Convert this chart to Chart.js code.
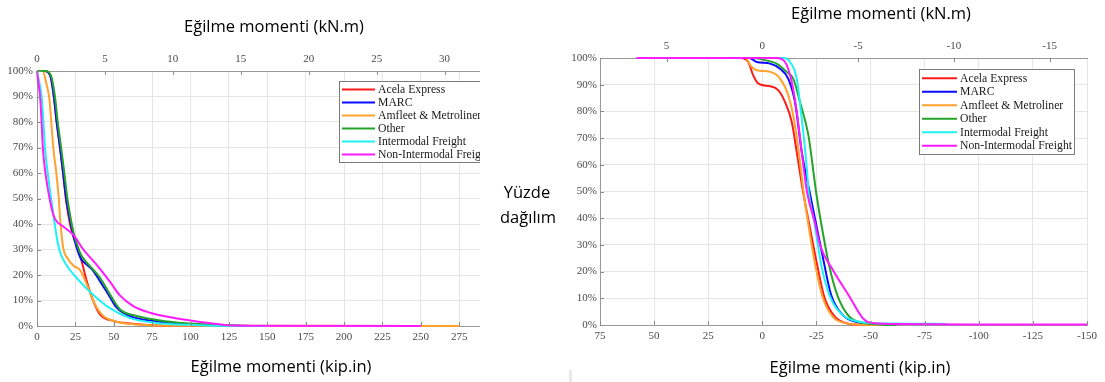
<!DOCTYPE html>
<html>
<head>
<meta charset="utf-8">
<script src="https://cdn.jsdelivr.net/npm/chart.js@4.4.0/dist/chart.umd.min.js"></script>
<style>
    body { margin: 0; background: #fff; width: 1105px; height: 382px; overflow: hidden; position: relative; font-family: 'Open Sans', sans-serif; }
    .panel { position: absolute; top: 0; height: 382px; overflow: hidden; }
    #left-panel { left: 0; width: 480px; }
    #right-panel { left: 540px; width: 565px; }
    .title { position: absolute; font-size: 16.5px; color: #000; white-space: nowrap; transform: translate(-50%, -50%); }
    .mark { position: absolute; left: 569px; top: 370px; width: 3px; height: 12px; background: #e8e8e8; }
</style>
</head>
<body>
<div class="panel" id="left-panel"><canvas id="left-chart" width="540" height="382"></canvas></div>
<div class="panel" id="right-panel"><canvas id="right-chart" width="565" height="382"></canvas></div>

<div class="title" style="left:274px; top:25px;">Eğilme momenti (kN.m)</div>
<div class="title" style="left:281px; top:365px;">Eğilme momenti (kip.in)</div>
<div class="title" style="left:881px; top:12px;">Eğilme momenti (kN.m)</div>
<div class="title" style="left:860px; top:366px;">Eğilme momenti (kip.in)</div>
<div class="title" style="left:527px; top:191px;">Yüzde</div>
<div class="title" style="left:528px; top:216px;">dağılım</div>
<div class="mark"></div>

<script>
// Units
const KIP_IN_PER_KN_M = 8.8507;

// Series
const seriesNames = ['Acela Express', 'MARC', 'Amfleet & Metroliner', 'Other', 'Intermodal Freight', 'Non-Intermodal Freight'];
const seriesColors = ['#ff1a1a', '#0a0aff', '#ffa22e', '#26a32b', '#1ff2f2', '#ff1aff'];

// Left chart data: [moment kip.in, percent]
const leftAcela = [[0,100],[5,100],[8.5,98.4],[11,90],[12.8,80],[15,70],[17,60],[18.8,50],[21.5,40],[24,34.5],[26.5,30.5],[29.1,25.4],[32.4,17.6],[36.7,9.8],[41,4.6],[49.7,2],[60.6,1],[75,0.3],[100,0.05],[150,0]];
const leftMarc = [[0,100],[5,100],[8.5,98.4],[11,90],[12.8,80],[15,70],[17,60],[19,50],[22.6,38.4],[25.9,30.6],[28.5,26.5],[31.3,24.6],[35.6,22.4],[41,17.6],[46.5,12.4],[51.9,7.2],[60.6,3.9],[75.8,2],[93.2,1],[110,0.5],[125,0.15],[150,0]];
const leftAmfleet = [[0,100],[3.7,100],[6.3,94.5],[8,89.4],[9.3,80],[10.6,70],[12.6,60],[14.2,50],[15.2,41],[17.1,30.6],[20,26.5],[24,23.5],[28,22],[33.4,14.9],[37.8,8.4],[43.2,3.9],[51.9,1.7],[65,0.6],[80,0.2],[100,0.05],[275,0]];
const leftOther = [[0,100],[5.5,100],[9,98.4],[11.7,90],[13.5,80],[15.7,70],[17.8,60],[19.8,50],[23.7,37],[28,28.8],[30.5,26.2],[34.5,23.5],[41,19],[47.5,12.4],[54,6.6],[65,3.9],[82.3,2],[99.7,1],[115,0.4],[130,0.1],[150,0]];
const leftIntermodal = [[0,100],[1,97],[3,90],[4.2,80],[5.2,70],[7,60],[9.2,50],[10.6,44],[12.8,35],[15,29],[19.3,23.8],[28,17.4],[36.7,12.2],[47.5,7],[60.6,3.1],[78,1.2],[97.5,0.5],[115,0.1],[150,0]];
const leftNonIntermodal = [[0,100],[1,95],[2,90],[3,80],[3.8,70],[5.5,60],[8.2,50],[10,45],[11.7,42],[17.1,39],[23.7,35.7],[30.2,30],[38.9,24],[47.5,17.4],[54,12],[62.7,7.8],[73.6,5.2],[88.8,3.2],[104,1.8],[117,0.8],[125,0.3],[140,0.1],[250,0]];

// Right chart data: [moment kip.in, percent]
const rightAcela = [[58,100],[10,100],[6.5,98.5],[4.2,93.5],[1.8,90.4],[-3.6,89.4],[-7.4,87.9],[-10.5,83.5],[-13.6,76],[-15.9,64.8],[-18.8,50],[-21.6,38],[-25.5,21.8],[-28.6,10.6],[-33.5,3.1],[-39.8,0.5],[-47,0.1],[-60,0]];
const rightMarc = [[58,100],[6,100],[2.6,98.5],[-3.6,97.9],[-8.2,96],[-12,92.2],[-15.1,83.5],[-18.2,64.8],[-21.8,50],[-24.8,38],[-27.9,25.6],[-31.8,11.2],[-37.2,3.7],[-44.8,0.9],[-52,0.2],[-60,0]];
const rightAmfleet = [[58,100],[8,100],[4.9,96.6],[2.6,95.4],[-3.6,94.8],[-8.2,92.3],[-12,86],[-15.1,74.8],[-17.4,61],[-19,50],[-21.2,38],[-24.6,21.8],[-27.8,10.6],[-32.5,3.1],[-39,0.6],[-46.5,0.1],[-60,0]];
const rightOther = [[58,100],[4,100],[0,99.4],[-6.6,97.9],[-11.3,94.8],[-14.3,92.2],[-17.4,83.5],[-21.3,71],[-24.8,50],[-27.2,38],[-31,21.8],[-34.9,10.6],[-40.2,3.1],[-48,0.6],[-55,0.1],[-62,0]];
const rightIntermodal = [[58,100],[-9.7,100],[-12.8,98.5],[-15.9,92.2],[-18.2,77.3],[-20.3,61],[-21.4,50],[-24.1,38],[-27.2,22.5],[-31,11.2],[-37.2,3.7],[-45,1.2],[-52,0.7],[-65,0.5],[-85,0.4]];
const rightNonIntermodal = [[58,100],[-6.6,100],[-10.5,98.5],[-13.6,91],[-15.9,79.8],[-18.2,64.8],[-20.6,50],[-24.4,38],[-26.6,30],[-32.6,20.6],[-40.3,10.6],[-46.5,2.5],[-50,0.8],[-60,0.4],[-100,0.2],[-150,0.15]];

const leftSeries = [leftAcela, leftMarc, leftAmfleet, leftOther, leftIntermodal, leftNonIntermodal];
const rightSeries = [rightAcela, rightMarc, rightAmfleet, rightOther, rightIntermodal, rightNonIntermodal];

// Axis ranges
const leftKipRange = [0, 300];
const rightKipRange = [-150, 75];

const tickFont = { family: "'Liberation Serif', 'Times New Roman', serif", size: 11 };
const tickColor = '#4a4a4a';
const gridColor = '#e6e6e6';
const axisColor = '#9a9a9a';

// Legend drawn inside the plot, boxed like the original
const boxLegend = {
    id: 'boxLegend',
    afterDraw(chart, args, opts) {
        const ctx = chart.ctx;
        const datasets = chart.data.datasets;
        ctx.save();
        ctx.fillStyle = '#fff';
        ctx.fillRect(opts.x, opts.y, opts.w, opts.h);
        ctx.strokeStyle = '#7a7a7a';
        ctx.lineWidth = 1;
        ctx.strokeRect(opts.x + 0.5, opts.y + 0.5, opts.w, opts.h);
        ctx.font = "11.7px 'Liberation Serif', serif";
        ctx.textBaseline = 'middle';
        datasets.forEach((ds, i) => {
            const cy = opts.y + opts.first + i * opts.row;
            ctx.strokeStyle = ds.borderColor;
            ctx.lineWidth = 2;
            ctx.beginPath();
            ctx.moveTo(opts.x + 3, cy);
            ctx.lineTo(opts.x + 3 + opts.line, cy);
            ctx.stroke();
            ctx.fillStyle = '#1a1a1a';
            ctx.fillText(ds.label, opts.x + 6 + opts.line, cy + 0.5);
        });
        ctx.restore();
    }
};

// Short inward tick marks, MATLAB style
const innerTicks = {
    id: 'innerTicks',
    afterDatasetsDraw(chart) {
        const ctx = chart.ctx;
        const area = chart.chartArea;
        ctx.save();
        ctx.strokeStyle = '#8a8a8a';
        ctx.lineWidth = 1;
        ctx.beginPath();
        chart.scales.x.ticks.forEach(t => {
            const px = Math.round(chart.scales.x.getPixelForValue(t.value)) + 0.5;
            ctx.moveTo(px, area.bottom);
            ctx.lineTo(px, area.bottom - 4);
        });
        chart.scales.x2.ticks.forEach(t => {
            const px = Math.round(chart.scales.x2.getPixelForValue(t.value)) + 0.5;
            ctx.moveTo(px, area.top);
            ctx.lineTo(px, area.top + 4);
        });
        chart.scales.y.ticks.forEach(t => {
            const py = Math.round(chart.scales.y.getPixelForValue(t.value)) + 0.5;
            ctx.moveTo(area.left, py);
            ctx.lineTo(area.left + 4, py);
        });
        ctx.stroke();
        ctx.restore();
    }
};

function buildDatasets(series) {
    return series.map((pts, i) => ({
        label: seriesNames[i],
        data: pts.map(p => ({ x: p[0], y: p[1] })),
        borderColor: seriesColors[i],
        backgroundColor: seriesColors[i],
        borderWidth: 2,
        pointRadius: 0,
        fill: false,
        cubicInterpolationMode: 'monotone',
        clip: 4,
        order: series.length - i
    }));
}

function buildChart(canvasId, series, kipRange, reverse, layout, yAxisWidth, yPad, legend) {
    const ctx = document.getElementById(canvasId).getContext('2d');
    return new Chart(ctx, {
        type: 'line',
        data: { datasets: buildDatasets(series) },
        plugins: [innerTicks, boxLegend],
        options: {
            responsive: false,
            animation: false,
            layout: { padding: layout },
            plugins: {
                legend: { display: false },
                tooltip: { enabled: false },
                boxLegend: legend
            },
            scales: {
                x: {
                    type: 'linear',
                    position: 'bottom',
                    min: kipRange[0],
                    max: kipRange[1],
                    reverse: reverse,
                    afterFit: s => { s.height = 20; },
                    ticks: { stepSize: 25, autoSkip: false, maxRotation: 0, font: tickFont, color: tickColor, padding: 5 },
                    grid: { color: gridColor, drawTicks: false },
                    border: { color: axisColor }
                },
                x2: {
                    type: 'linear',
                    position: 'top',
                    min: kipRange[0] / KIP_IN_PER_KN_M,
                    max: kipRange[1] / KIP_IN_PER_KN_M,
                    reverse: reverse,
                    afterFit: s => { s.height = 20; },
                    ticks: { stepSize: 5, includeBounds: false, autoSkip: false, maxRotation: 0, font: tickFont, color: tickColor, padding: 5 },
                    grid: { drawOnChartArea: false, drawTicks: false },
                    border: { color: axisColor }
                },
                y: {
                    min: 0,
                    max: 100,
                    afterFit: s => { s.width = yAxisWidth; },
                    ticks: { stepSize: 10, font: tickFont, color: tickColor, padding: yPad, callback: v => v + '%' },
                    grid: { color: gridColor, drawTicks: false },
                    border: { color: axisColor }
                }
            }
        }
    });
}

document.addEventListener('DOMContentLoaded', () => {
    buildChart('left-chart', leftSeries, leftKipRange, false,
        { top: 51, bottom: 36, left: 0, right: 42.5 }, 37, 4,
        { x: 339, y: 81, w: 160, h: 81, first: 8.5, row: 13, line: 33 });
    buildChart('right-chart', rightSeries, rightKipRange, true,
        { top: 38, bottom: 37, left: 0, right: 18 }, 60, 3,
        { x: 379, y: 69, w: 155, h: 85, first: 9.3, row: 13.5, line: 35 });
});
</script>
</body>
</html>
